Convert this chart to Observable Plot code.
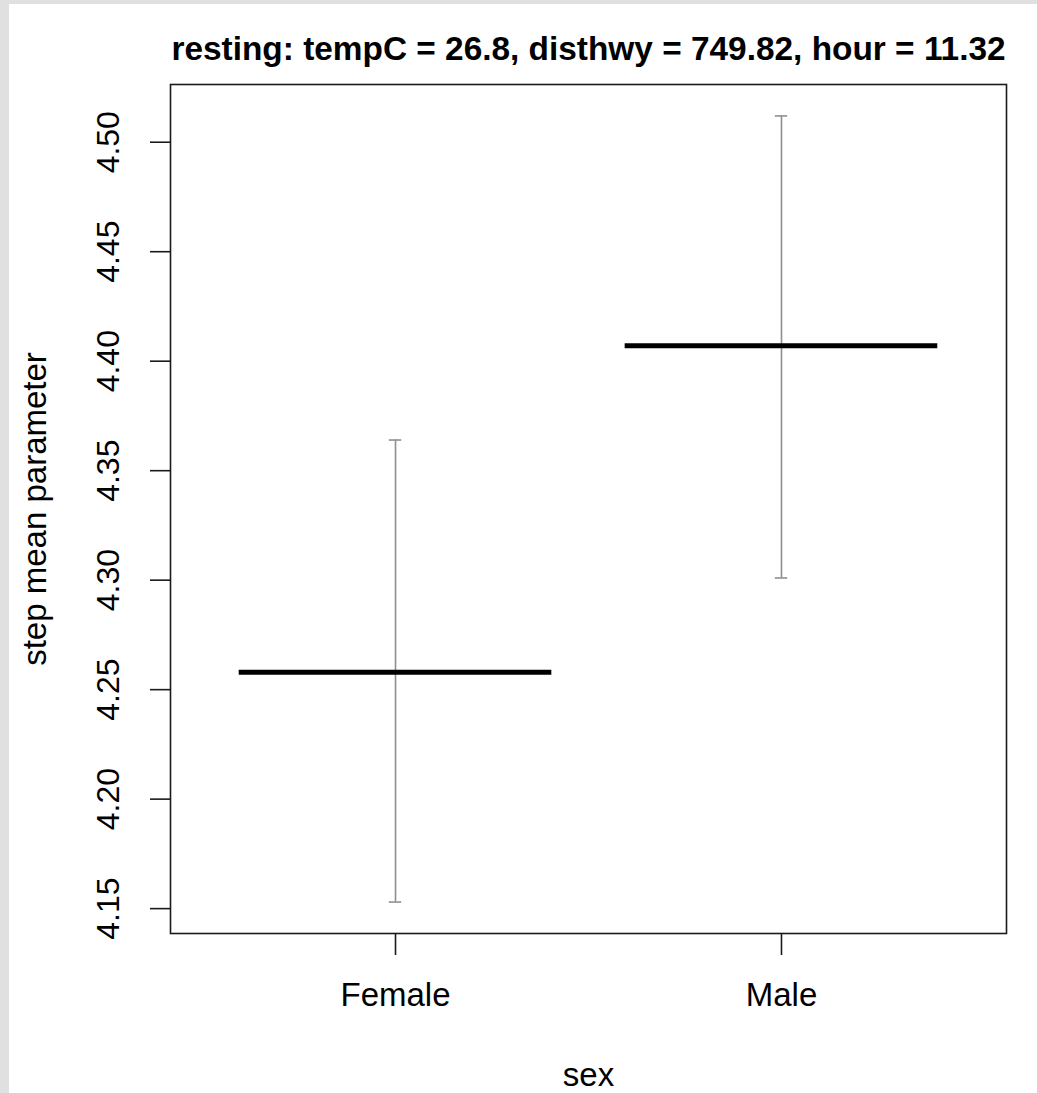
<!DOCTYPE html>
<html>
<head>
<meta charset="utf-8">
<script src="https://cdn.jsdelivr.net/npm/d3@7"></script>
<script src="https://cdn.jsdelivr.net/npm/@observablehq/plot@0.6"></script>
<style>
  html, body { margin: 0; padding: 0; background: #e0e0e0; }
  #chart { position: absolute; left: 9px; top: 4px; width: 1028px; height: 1089px; background: #fff; }
  #chart svg { display: block; font-family: "Liberation Sans", Arial, sans-serif; }
</style>
</head>
<body>
<div id="chart"></div>
<script>
// Effect of sex on the step mean parameter (resting state)
const title = "resting: tempC = 26.8, disthwy = 749.82, hour = 11.32";
const sexes = ["Female", "Male"];
const fit = [4.258, 4.407];
const lower = [4.153, 4.301];
const upper = [4.364, 4.512];
const yTicks = [4.15, 4.20, 4.25, 4.30, 4.35, 4.40, 4.45, 4.50];
const xLabel = "sex";
const yLabel = "step mean parameter";

const rows = sexes.map((s, i) => ({sex: s, pos: i + 1, fit: fit[i], lower: lower[i], upper: upper[i]}));

// y range padded by 4% on each side of the interval extents
const lo = d3.min(lower), hi = d3.max(upper), pad = (hi - lo) * 0.04;

const halfBar = 0.405;
const halfCap = 0.016;

const chart = Plot.plot({
  width: 1028,
  height: 1089,
  marginLeft: 161,
  marginTop: 80,
  marginRight: 31,
  marginBottom: 160,
  style: {fontFamily: "Liberation Sans, Arial, sans-serif", color: "#000", background: "#fff"},
  x: {type: "linear", domain: [0.417, 2.583]},
  y: {domain: [lo - pad, hi + pad]},
  marks: [
    Plot.frame({stroke: "#1a1a1a", strokeWidth: 1.6}),
    // confidence intervals
    Plot.ruleX(rows, {x: "pos", y1: "lower", y2: "upper", stroke: "#8f8f8f", strokeWidth: 1.6}),
    Plot.ruleY(rows, {y: "upper", x1: d => d.pos - halfCap, x2: d => d.pos + halfCap, stroke: "#8f8f8f", strokeWidth: 1.6}),
    Plot.ruleY(rows, {y: "lower", x1: d => d.pos - halfCap, x2: d => d.pos + halfCap, stroke: "#8f8f8f", strokeWidth: 1.6}),
    // fitted values
    Plot.ruleY(rows, {y: "fit", x1: d => d.pos - halfBar, x2: d => d.pos + halfBar, stroke: "#000", strokeWidth: 5}),
    Plot.axisY(yTicks, {
      tickSize: 20, tickPadding: 32, tickRotate: -90, fontSize: 32,
      tickFormat: d3.format(".2f"), stroke: "#1a1a1a", strokeWidth: 1.6, label: null
    }),
    Plot.axisX([1, 2], {
      tickSize: 22, tickPadding: 27, fontSize: 33,
      tickFormat: v => sexes[v - 1], stroke: "#1a1a1a", strokeWidth: 1.6, label: null
    }),
    Plot.text([title], {text: d => d, frameAnchor: "top", lineAnchor: "bottom", dy: -25, fontSize: 33.4, fontWeight: "bold", fill: "#000"}),
    Plot.text([yLabel], {text: d => d, frameAnchor: "left", textAnchor: "middle", rotate: -90, lineAnchor: "middle", dx: -135, fontSize: 33, fill: "#000"}),
    Plot.text([xLabel], {text: d => d, frameAnchor: "bottom", lineAnchor: "middle", dy: 142, fontSize: 33, fill: "#000"})
  ]
});
document.getElementById("chart").append(chart);
</script>
</body>
</html>
